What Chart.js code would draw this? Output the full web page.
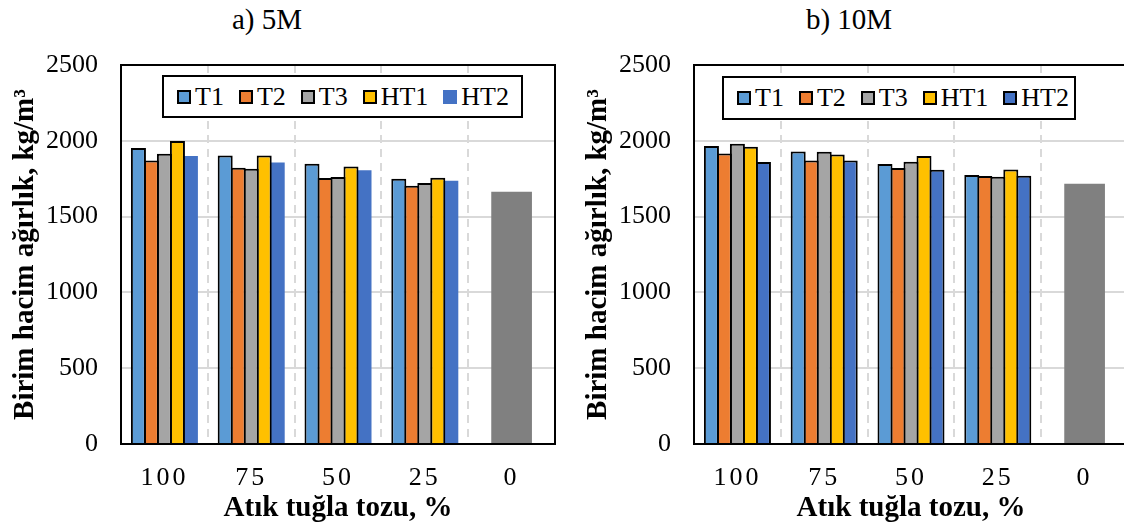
<!DOCTYPE html>
<html>
<head>
<meta charset="utf-8">
<script src="https://cdn.jsdelivr.net/npm/chart.js@4.4.1/dist/chart.umd.min.js"></script>
<style>
  html, body { margin: 0; padding: 0; background: #fff; overflow: hidden; }
  body { width: 1124px; height: 529px; position: relative; font-family: "Liberation Serif", serif; color: #000; }
  .panel { position: absolute; top: 0; width: 570px; height: 529px; }
  .caption { position: absolute; top: 5px; width: 200px; text-align: center; font-size: 29px; line-height: 29px; }
  .legend { position: absolute; display: flex; align-items: center; box-sizing: border-box; border: 2px solid #000; background: #fff; font-size: 26px; line-height: 26px; padding-left: 13px; }
  .legend .item { display: flex; align-items: center; margin-right: 15px; }
  .legend .box { width: 14px; height: 14px; box-sizing: border-box; margin-right: 4px; }
</style>
</head>
<body>
<div class="caption" style="left:167px">a) 5M</div>
<div class="caption" style="left:749px">b) 10M</div>
<div class="panel" style="left:0"><canvas id="chart5M" width="570" height="529"></canvas></div>
<div class="panel" style="left:573px"><canvas id="chart10M" width="570" height="529"></canvas></div>
<div class="legend" id="legend5M" style="left:162px;top:75px;width:361px;height:43px"></div>
<div class="legend" id="legend10M" style="left:722px;top:76px;width:354px;height:44px"></div>

<script>
// waste brick powder content, %
const categories = ['100', '75', '50', '25', '0'];
const seriesNames = ['T1', 'T2', 'T3', 'HT1', 'HT2'];
const seriesColors = ['#5B9BD5', '#ED7D31', '#A5A5A5', '#FFC000', '#4472C4'];
const refColor = '#808080';
const yTicks = [0, 500, 1000, 1500, 2000, 2500];

// 5M mixes (kg/m3)
const t1_5M = [1952, 1903, 1849, 1750];
const t2_5M = [1870, 1822, 1755, 1704];
const t3_5M = [1914, 1816, 1761, 1722];
const ht1_5M = [1998, 1903, 1831, 1757];
const ht2_5M = [1899, 1857, 1805, 1737];
const ref_5M = 1664;

// 10M mixes (kg/m3)
const t1_10M = [1965, 1930, 1847, 1774];
const t2_10M = [1916, 1870, 1820, 1768];
const t3_10M = [1980, 1928, 1862, 1763];
const ht1_10M = [1961, 1910, 1899, 1811];
const ht2_10M = [1860, 1870, 1809, 1770];
const ref_10M = 1717;

const SERIF = 'Liberation Serif';
Chart.defaults.font.family = SERIF;
Chart.defaults.color = '#000';

// black frame round the plot area
const framePlugin = {
  id: 'frame',
  afterDraw(chart) {
    const a = chart.chartArea, ctx = chart.ctx;
    ctx.save();
    ctx.strokeStyle = '#000';
    ctx.lineWidth = 2;
    ctx.strokeRect(a.left, a.top, a.right - a.left, a.bottom - a.top);
    ctx.restore();
  }
};

// a little extra tracking on the category labels
const spacedLabels = {
  id: 'spacedLabels',
  beforeDraw(chart) {
    const sx = chart.scales.x;
    if (sx._spaced) return;
    const orig = sx.drawLabels;
    sx.drawLabels = function (area) {
      const c = this.ctx;
      c.save();
      c.letterSpacing = '3px';
      orig.call(this, area);
      c.restore();
    };
    sx._spaced = true;
  }
};

function makeChart(id, values, refValue, lastBorder) {
  const datasets = values.map((v, i) => ({
    label: seriesNames[i],
    data: [...v, null],
    backgroundColor: seriesColors[i],
    borderColor: '#000',
    borderWidth: (i === 4 && !lastBorder) ? 0 : 2,
    categoryPercentage: 0.749,
    barPercentage: 1.154,
    skipNull: true
  }));
  datasets.push({
    label: 'ref',
    data: [null, null, null, null, refValue],
    backgroundColor: refColor,
    borderWidth: 0,
    categoryPercentage: 0.749,
    barPercentage: 0.626,
    skipNull: true
  });

  return new Chart(document.getElementById(id), {
    type: 'bar',
    data: { labels: categories, datasets },
    options: {
      responsive: false,
      animation: false,
      devicePixelRatio: 1,
      layout: { padding: { top: 65, right: 15, left: 0, bottom: 0 } },
      plugins: { legend: { display: false }, tooltip: { enabled: false } },
      scales: {
        x: {
          grid: { color: '#d9d9d9', lineWidth: 2, drawTicks: false, offset: true },
          border: { display: false, dash: [8, 6] },
          ticks: { color: '#000', font: { family: SERIF, size: 26 }, padding: 19, maxRotation: 0, autoSkip: false },
          title: {
            display: true, text: 'Atık tuğla tozu, %', color: '#000',
            font: { family: SERIF, size: 29, weight: 'bold' }, padding: { top: 0, bottom: 3 }
          },
          afterFit(s) { s.height = 85; }
        },
        y: {
          min: yTicks[0],
          max: yTicks[yTicks.length - 1],
          grid: { color: '#d9d9d9', lineWidth: 2, drawTicks: false },
          border: { display: false },
          ticks: {
            stepSize: yTicks[1] - yTicks[0], color: '#000', font: { family: SERIF, size: 26 }, padding: 23,
            callback: v => String(v)
          },
          title: {
            display: true, text: 'Birim hacim ağırlık, kg/m³', color: '#000',
            font: { family: SERIF, size: 29, weight: 'bold' }, padding: { top: 8, bottom: 0 }
          },
          afterFit(s) { s.width = 121; }
        }
      }
    },
    plugins: [framePlugin, spacedLabels]
  });
}

function buildLegend(el, chart, lastBorder) {
  chart.data.datasets.slice(0, seriesNames.length).forEach((ds, i) => {
    const item = document.createElement('div');
    item.className = 'item';
    const box = document.createElement('span');
    box.className = 'box';
    box.style.background = ds.backgroundColor;
    if (i < 4 || lastBorder) box.style.border = '2px solid #000';
    const txt = document.createElement('span');
    txt.textContent = ds.label;
    item.appendChild(box);
    item.appendChild(txt);
    el.appendChild(item);
  });
}

// make sure the serif faces are ready before the canvases paint
Promise.all([
  document.fonts.load("26px 'Liberation Serif'"),
  document.fonts.load("bold 26px 'Liberation Serif'")
]).catch(() => {}).then(() => {
  const c5 = makeChart('chart5M', [t1_5M, t2_5M, t3_5M, ht1_5M, ht2_5M], ref_5M, false);
  const c10 = makeChart('chart10M', [t1_10M, t2_10M, t3_10M, ht1_10M, ht2_10M], ref_10M, true);
  buildLegend(document.getElementById('legend5M'), c5, false);
  buildLegend(document.getElementById('legend10M'), c10, true);
});
</script>
</body>
</html>
